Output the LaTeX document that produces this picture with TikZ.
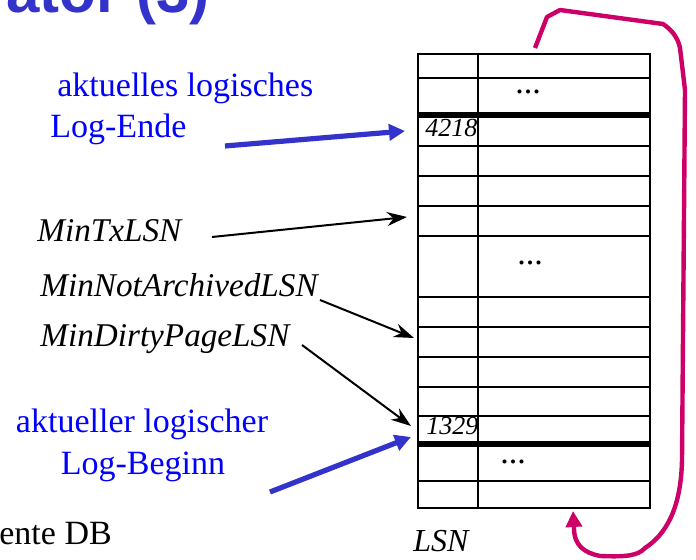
\documentclass[tikz,border=0pt]{standalone}
\usepackage{fontspec}
\setmainfont{Liberation Serif}
\newfontfamily\titelfont{Liberation Sans}
\usetikzlibrary{arrows.meta}
\definecolor{pfeilblau}{RGB}{51,51,204}
\definecolor{textblau}{RGB}{0,0,255}
\definecolor{logrot}{RGB}{204,0,102}

\tikzset{
	bluetext/.style={text=textblau, inner sep=0pt, font=\fontsize{17}{20}\selectfont},
	lsnlabel/.style={inner sep=0pt, font=\fontsize{16.6}{20}\selectfont\itshape},
	eintrag/.style={inner sep=0pt, font=\fontsize{13}{15}\selectfont\itshape},
	punkte/.style={inner sep=0pt, anchor=base, font=\fontsize{17}{20}\selectfont},
	bluearrow/.style={pfeilblau, line width=2.6pt, -{Triangle[length=8pt,width=8pt]}},
	blackarrow/.style={line width=1pt, -{Stealth[length=10pt,width=7pt]}},
	zeile/.style={line width=1.4pt},
	dickzeile/.style={line width=2.8pt}
}

\begin{document}
\begin{tikzpicture}[x=0.5pt, y=-0.5pt]
			\clip (0,0) rectangle (696,560);
			% Log-Tabelle
			\foreach \y in {78,146,176,206,236,297,327,357,387,416,481}
				\draw[zeile] (418,\y) -- (650,\y);
			\foreach \y in {115,444}
				\draw[dickzeile] (418,\y) -- (650,\y);
			\draw[zeile] (418,54) rectangle (650,508);
			\draw[zeile] (478,54) -- (478,508);
			\node[punkte] (dotsA) at (528,94) {...};
			\node[punkte] (dotsB) at (530,265) {...};
			\node[punkte] (dotsC) at (513,464) {...};
			\node[eintrag, anchor=base west] (e4218) at (425,137) {4218};
			\node[eintrag, anchor=base west] (e1329) at (426,435) {1329};
			\node[inner sep=0pt, anchor=base west, font=\fontsize{16}{18}\selectfont\itshape] (lsn) at (413,552) {LSN};
			% Titel und Texte
			\node[inner sep=0pt, anchor=base west, text=pfeilblau, font=\fontsize{30}{34}\selectfont\titelfont\bfseries] (titel) at (6,13) {ator (3)};
			\node[inner sep=0pt, anchor=base west, font=\fontsize{17}{20}\selectfont] (db) at (-1,545) {ente DB};
			\node[bluetext, anchor=base west] (endeA) at (57,97) {aktuelles logisches};
			\node[bluetext, anchor=base west] (endeB) at (50,138) {Log-Ende};
			\node[lsnlabel, anchor=base west] (mintx) at (37,242) {MinTxLSN};
			\node[lsnlabel, anchor=base west] (minarch) at (40,297) {MinNotArchivedLSN};
			\node[lsnlabel, anchor=base west] (mindirty) at (40,347) {MinDirtyPageLSN};
			\node[bluetext, anchor=base] (beginnA) at (142,433) {aktueller logischer};
			\node[bluetext, anchor=base] (beginnB) at (143,475) {Log-Beginn};
			% Pfeile
			\coordinate (endeTail) at (225,146);
			\coordinate (endeTip) at (405,131);
			\coordinate (mintxTail) at (212,237);
			\coordinate (mintxTip) at (407,217);
			\coordinate (minarchTail) at (320,300);
			\coordinate (minarchTip) at (414,338);
			\coordinate (mindirtyTail) at (302,345);
			\coordinate (mindirtyTip) at (411,426);
			\coordinate (beginnTail) at (270,492);
			\coordinate (beginnTip) at (411,437);
			\draw[bluearrow] (endeTail) -- (endeTip);
			\draw[blackarrow] (mintxTail) -- (mintxTip);
			\draw[blackarrow] (minarchTail) -- (minarchTip);
			\draw[blackarrow] (mindirtyTail) -- (mindirtyTip);
			\draw[bluearrow] (beginnTail) -- (beginnTip);
			% Umlauf
			\coordinate (umlaufStart) at (535,48);
			\coordinate (umlaufEnde) at (573,511);
			\draw[logrot, line width=2.2pt, line join=round, -{Triangle[length=8pt,width=8pt]}]
				(umlaufStart) -- (547,17) -- (560,10) -- (663,24)
				.. controls (672,30) and (678,38) .. (680,48)
				-- (685,90) -- (682,460)
				.. controls (681,510) and (665,535) .. (645,548)
				.. controls (638,556) and (625,557) .. (600,556)
				.. controls (585,553) and (574,546) .. (574,528) -- (umlaufEnde);
		\end{tikzpicture}
\end{document}
